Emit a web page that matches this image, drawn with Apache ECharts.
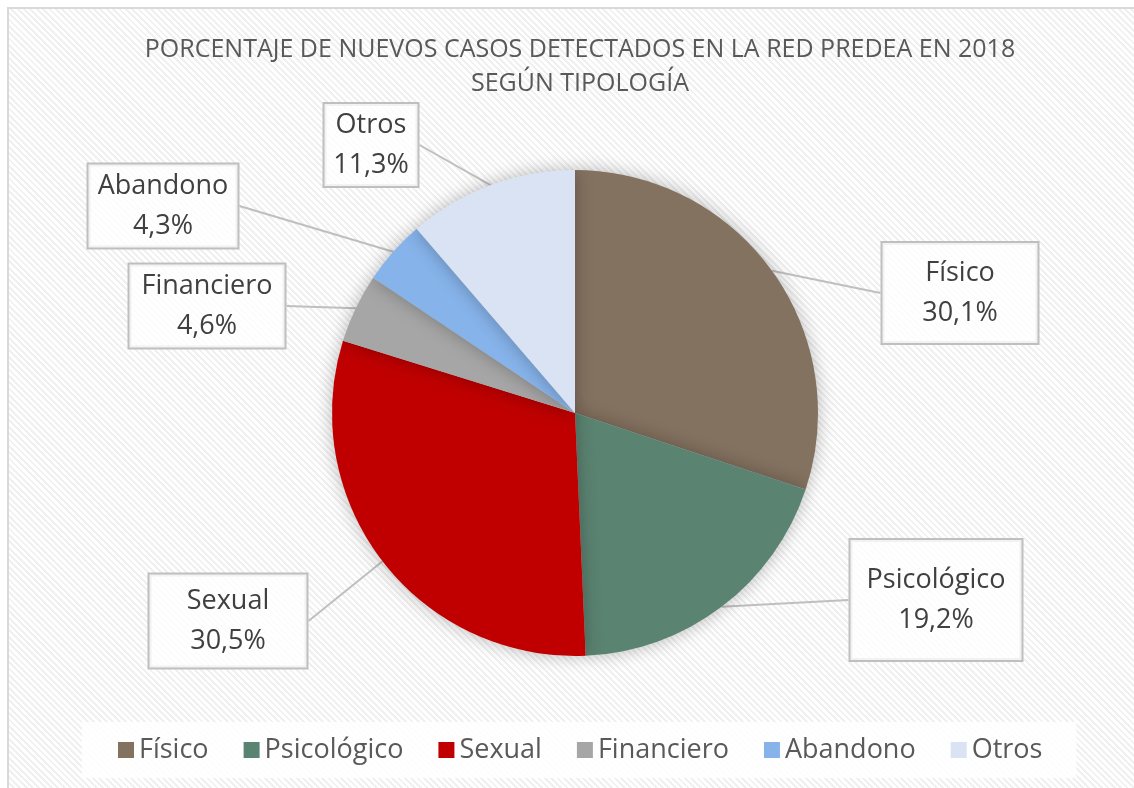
<!DOCTYPE html>
<html>
<head>
<meta charset="utf-8">
<script src="https://cdn.jsdelivr.net/npm/echarts@6/dist/echarts.min.js"></script>
<style>
  html, body { margin:0; padding:0; background:#ffffff; }
  #frame { position:absolute; left:7px; top:7px; width:1200px; height:900px;
    border-left:2px solid #d9d9d9; border-top:2px solid #d9d9d9;
    background: repeating-linear-gradient(45deg, #ffffff 0px, #ffffff 2.5px, #f0f0f0 2.5px, #f0f0f0 4.5px); }
  #chart { position:absolute; left:0; top:0; width:1134px; height:788px; }
</style>
</head>
<body>
<div id="frame"></div>
<div id="chart"></div>
<script>
const categories = ['Físico', 'Psicológico', 'Sexual', 'Financiero', 'Abandono', 'Otros'];
const values = [30.1, 19.2, 30.5, 4.6, 4.3, 11.3];
const colors = ['#847260', '#5b8371', '#c00000', '#a6a6a6', '#86b3ea', '#dae3f3'];
const titleLines = ['PORCENTAJE DE NUEVOS CASOS DETECTADOS EN LA RED PREDEA EN 2018', 'SEGÚN TIPOLOGÍA'];

// label box styling (centre position and size of each callout box)
const labelBoxes = [
  { cx: 960, cy: 293, w: 159, h: 104 },
  { cx: 936, cy: 600, w: 175, h: 124 },
  { cx: 228, cy: 621, w: 161, h: 97 },
  { cx: 207, cy: 306, w: 159, h: 87 },
  { cx: 163, cy: 206, w: 153, h: 87 },
  { cx: 371, cy: 145, w: 97, h: 86 }
];

const fmt = v => v.toFixed(1).replace('.', ',') + '%';
const FONT = '"Open Sans", "Noto Sans", sans-serif';

const chart = echarts.init(document.getElementById('chart'), null, { renderer: 'canvas' });
chart.setOption({
  backgroundColor: 'transparent',
  color: colors,
  title: {
    text: titleLines.join('\n'),
    left: 575, textAlign: 'center', top: 28,
    textStyle: { fontFamily: FONT, fontSize: 25, fontWeight: 'normal', color: '#595959', lineHeight: 34 }
  },
  legend: {
    data: categories,
    left: 82, top: 722,
    itemWidth: 16, itemHeight: 16, itemGap: 35,
    icon: 'rect',
    padding: [13, 34, 13, 36],
    backgroundColor: 'rgba(255,255,255,0.85)',
    textStyle: { fontFamily: FONT, fontSize: 27, color: '#595959', lineHeight: 30 },
    selectedMode: false
  },
  series: [{
    type: 'pie',
    center: [575, 413],
    radius: 243,
    startAngle: 90,
    clockwise: true,
    silent: true,
    animation: false,
    itemStyle: { borderWidth: 0, shadowBlur: 18, shadowColor: 'rgba(0,0,0,0.28)' },
    data: categories.map((c, i) => ({
      name: c, value: values[i],
      label: { width: labelBoxes[i].w - 4, height: labelBoxes[i].h - 4 }
    })),
    label: {
      show: true,
      position: 'outside',
      formatter: p => p.name + '\n' + fmt(p.value),
      fontFamily: FONT, fontSize: 27, color: '#404040', lineHeight: 40,
      align: 'center', verticalAlign: 'middle',
      backgroundColor: 'rgba(255,255,255,0.8)',
      borderColor: '#bfbfbf', borderWidth: 2,
      padding: 0
    },
    labelLine: { show: true, length: 6, length2: 0, lineStyle: { color: '#bfbfbf', width: 2 } },
    labelLayout: params => {
      const b = labelBoxes[params.dataIndex];
      return { x: b.cx, y: b.cy, align: 'center', verticalAlign: 'middle' };
    }
  }]
});
</script>
</body>
</html>
